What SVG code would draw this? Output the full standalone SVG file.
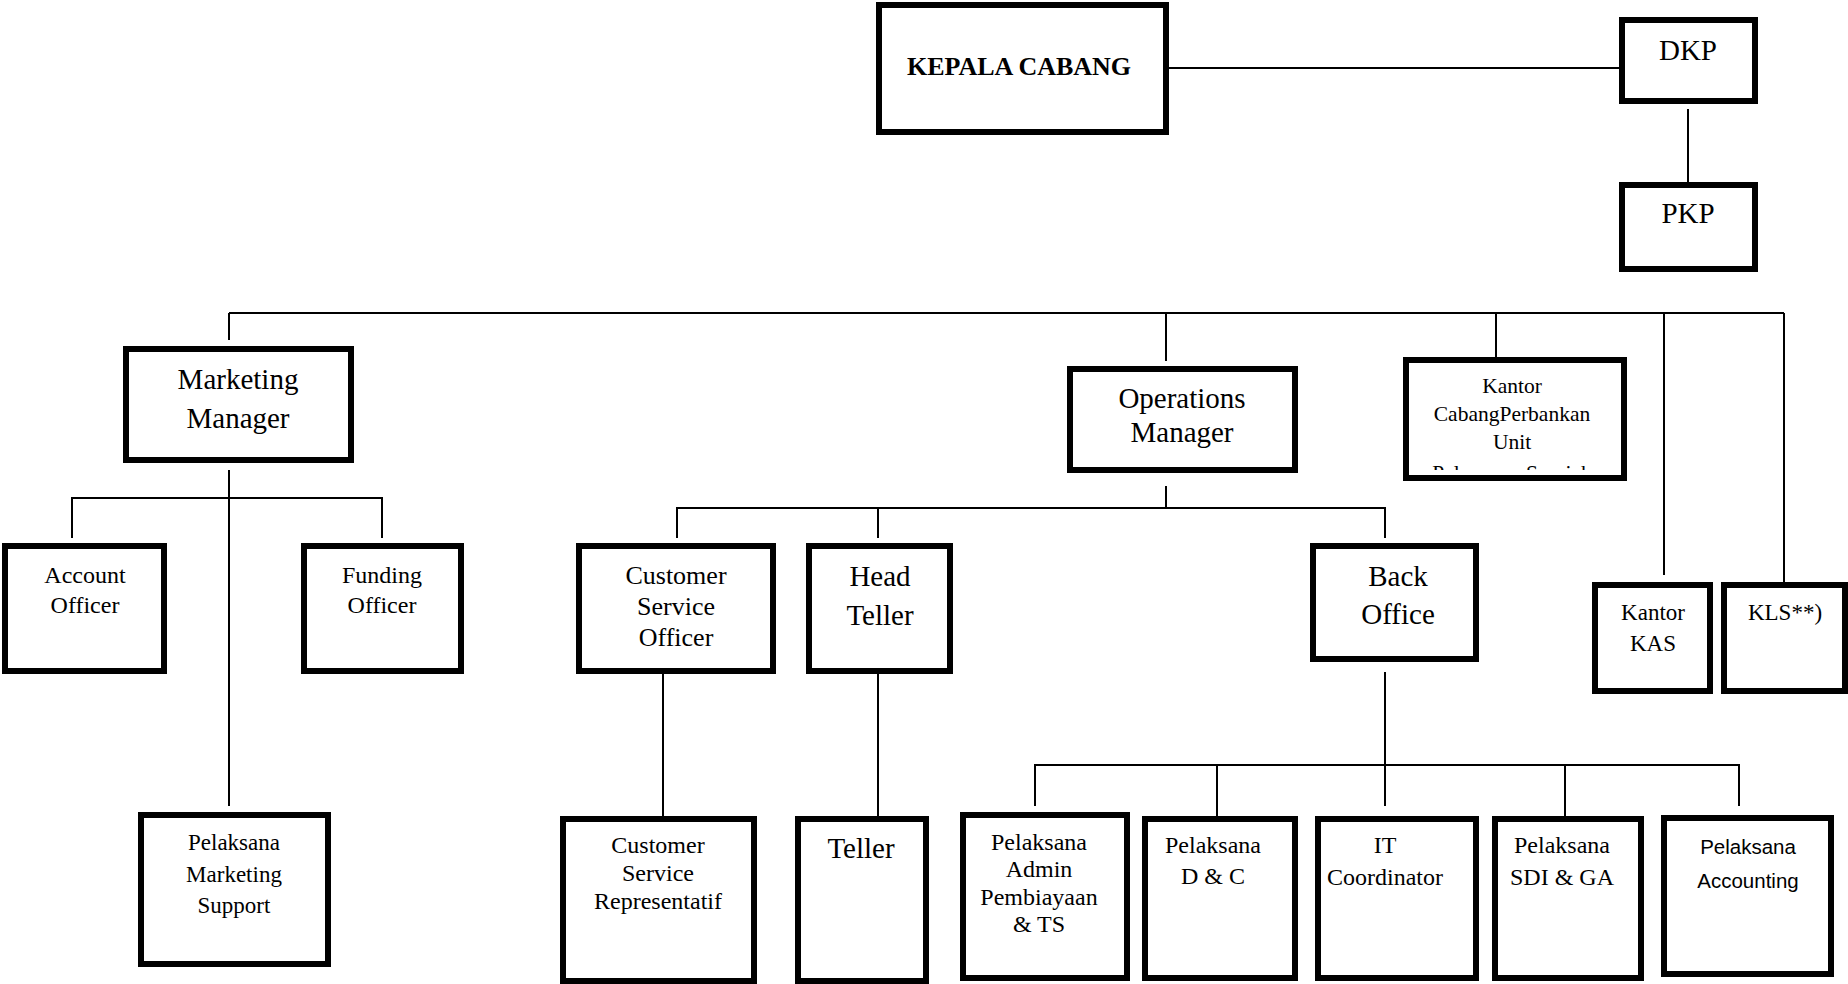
<svg xmlns="http://www.w3.org/2000/svg" width="1848" height="984" viewBox="0 0 1848 984">
<style>
.box{fill:#fff;stroke:#000;stroke-width:6}
.t{font-family:"Liberation Serif","Times New Roman",serif;fill:#000;text-anchor:middle}
.s{font-family:"Liberation Sans",Arial,sans-serif;fill:#000;text-anchor:middle}
.c{stroke:#000;stroke-width:2;fill:none}
</style>
<defs>
<clipPath id="kcpClip"><rect x="1409" y="363" width="212" height="107"/></clipPath>
</defs>
<rect width="1848" height="984" fill="#fff"/>
<g id="connectors" class="c">
<path d="M1169,68 H1619"/>
<path d="M1688,109 V182"/>
<path d="M229,313 H1784"/>
<path d="M229,313 V340"/>
<path d="M1166,313 V361"/>
<path d="M1496,313 V357"/>
<path d="M1664,313 V575"/>
<path d="M1784,313 V582"/>
<path d="M229,470 V806"/>
<path d="M72,538 V498 H382 V538"/>
<path d="M1166,486 V508"/>
<path d="M677,538 V508 H1385 V538"/>
<path d="M878,508 V538"/>
<path d="M663,674 V816"/>
<path d="M878,674 V816"/>
<path d="M1385,672 V806"/>
<path d="M1035,806 V765 H1739 V806"/>
<path d="M1217,765 V816"/>
<path d="M1565,765 V816"/>
</g>
<g id="kepala-cabang">
<rect class="box" x="879" y="5" width="287" height="127"/>
<text class="t" x="1019" y="75" font-size="26" font-weight="bold">KEPALA CABANG</text>
</g>
<g id="dkp">
<rect class="box" x="1622" y="20" width="133" height="81"/>
<text class="t" x="1688" y="60" font-size="29">DKP</text>
</g>
<g id="pkp">
<rect class="box" x="1622" y="185" width="133" height="84"/>
<text class="t" x="1688" y="223" font-size="29">PKP</text>
</g>
<g id="marketing-manager">
<rect class="box" x="126" y="349" width="225" height="111"/>
<text class="t" font-size="29"><tspan x="238" y="389">Marketing</tspan><tspan x="238" y="428">Manager</tspan></text>
</g>
<g id="operations-manager">
<rect class="box" x="1070" y="369" width="225" height="101"/>
<text class="t" font-size="29"><tspan x="1182" y="408">Operations</tspan><tspan x="1182" y="442">Manager</tspan></text>
</g>
<g id="kantor-cabang">
<rect class="box" x="1406" y="360" width="218" height="118"/>
<text class="t" font-size="21.5" clip-path="url(#kcpClip)"><tspan x="1512" y="393">Kantor</tspan><tspan x="1512" y="421">CabangPerbankan</tspan><tspan x="1512" y="449">Unit</tspan><tspan x="1512" y="480">Pelayanan Syariah</tspan></text>
</g>
<g id="kantor-kas">
<rect class="box" x="1595" y="585" width="115" height="106"/>
<text class="t" font-size="23"><tspan x="1653" y="620">Kantor</tspan><tspan x="1653" y="651">KAS</tspan></text>
</g>
<g id="kls">
<rect class="box" x="1724" y="585" width="121" height="106"/>
<text class="t" x="1785" y="620" font-size="23">KLS**)</text>
</g>
<g id="account-officer">
<rect class="box" x="5" y="546" width="159" height="125"/>
<text class="t" font-size="24"><tspan x="85" y="583">Account</tspan><tspan x="85" y="613">Officer</tspan></text>
</g>
<g id="funding-officer">
<rect class="box" x="304" y="546" width="157" height="125"/>
<text class="t" font-size="24"><tspan x="382" y="583">Funding</tspan><tspan x="382" y="613">Officer</tspan></text>
</g>
<g id="customer-service-officer">
<rect class="box" x="579" y="546" width="194" height="125"/>
<text class="t" font-size="26"><tspan x="676" y="584">Customer</tspan><tspan x="676" y="615">Service</tspan><tspan x="676" y="646">Officer</tspan></text>
</g>
<g id="head-teller">
<rect class="box" x="809" y="546" width="141" height="125"/>
<text class="t" font-size="29"><tspan x="880" y="586">Head</tspan><tspan x="880" y="625">Teller</tspan></text>
</g>
<g id="back-office">
<rect class="box" x="1313" y="546" width="163" height="113"/>
<text class="t" font-size="29"><tspan x="1398" y="586">Back</tspan><tspan x="1398" y="624">Office</tspan></text>
</g>
<g id="pelaksana-marketing-support">
<rect class="box" x="141" y="815" width="187" height="149"/>
<text class="t" font-size="23"><tspan x="234" y="850">Pelaksana</tspan><tspan x="234" y="882">Marketing</tspan><tspan x="234" y="913">Support</tspan></text>
</g>
<g id="customer-service-representatif">
<rect class="box" x="563" y="819" width="191" height="162"/>
<text class="t" font-size="24"><tspan x="658" y="853">Customer</tspan><tspan x="658" y="881">Service</tspan><tspan x="658" y="909">Representatif</tspan></text>
</g>
<g id="teller">
<rect class="box" x="798" y="819" width="128" height="162"/>
<text class="t" x="861" y="858" font-size="29">Teller</text>
</g>
<g id="pelaksana-admin">
<rect class="box" x="963" y="815" width="164" height="163"/>
<text class="t" font-size="24"><tspan x="1039" y="850">Pelaksana</tspan><tspan x="1039" y="877">Admin</tspan><tspan x="1039" y="905">Pembiayaan</tspan><tspan x="1039" y="932">&amp; TS</tspan></text>
</g>
<g id="pelaksana-dc">
<rect class="box" x="1145" y="819" width="150" height="159"/>
<text class="t" font-size="24"><tspan x="1213" y="853">Pelaksana</tspan><tspan x="1213" y="884">D &amp; C</tspan></text>
</g>
<g id="it-coordinator">
<rect class="box" x="1318" y="819" width="158" height="159"/>
<text class="t" font-size="24"><tspan x="1385" y="853">IT</tspan><tspan x="1385" y="885">Coordinator</tspan></text>
</g>
<g id="pelaksana-sdi-ga">
<rect class="box" x="1495" y="819" width="146" height="159"/>
<text class="t" font-size="24"><tspan x="1562" y="853">Pelaksana</tspan><tspan x="1562" y="885">SDI &amp; GA</tspan></text>
</g>
<g id="pelaksana-accounting">
<rect class="box" x="1664" y="818" width="167" height="156"/>
<text class="s" font-size="20.5"><tspan x="1748" y="854">Pelaksana</tspan><tspan x="1748" y="888">Accounting</tspan></text>
</g>
</svg>
